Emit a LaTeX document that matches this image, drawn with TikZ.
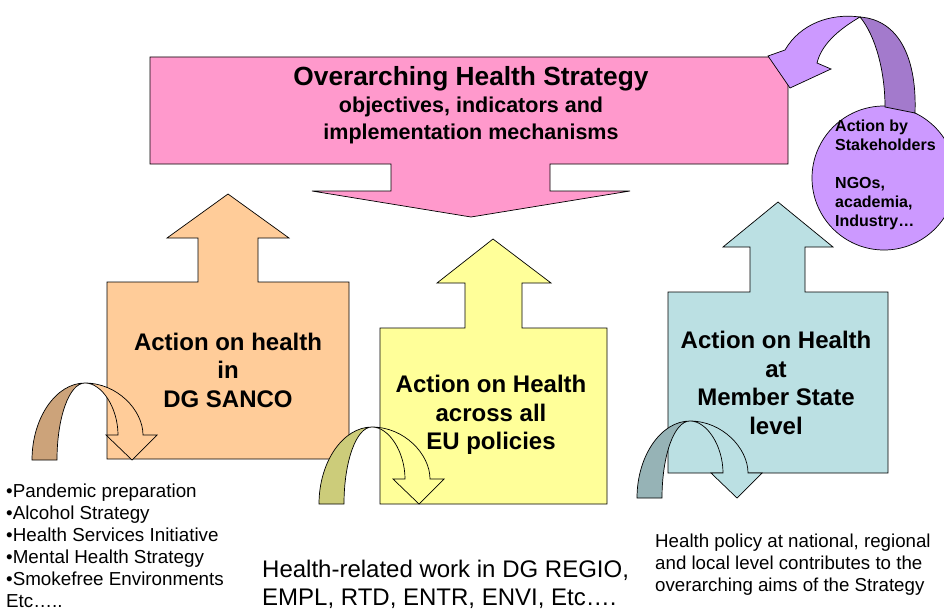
\documentclass[tikz,border=0pt]{standalone}
\usepackage{fontspec}
\setmainfont{Liberation Sans}
\definecolor{pinkc}{HTML}{FF99CC}
\definecolor{orangec}{HTML}{FFCC99}
\definecolor{yellowc}{HTML}{FFFF99}
\definecolor{tealc}{HTML}{BBE0E3}
\definecolor{purplec}{HTML}{CC99FF}
\definecolor{purpled}{HTML}{A37ACC}
\definecolor{orangek}{HTML}{CCA37A}
\definecolor{yellowk}{HTML}{CCCC7A}
\definecolor{tealk}{HTML}{96B3B6}
\tikzset{
  outl/.style={draw=black,line width=0.7pt,line join=miter},
  boxtxt/.style={font=\fontsize{24}{28.5}\selectfont\bfseries,align=center,inner sep=0pt},
  plaintxt/.style={align=left,inner sep=0pt,anchor=west},
  pics/curvarr/.style 2 args={code={
    \draw[outl,fill=#1] (0,0) .. controls (0,-42) and (24,-77) .. (53,-77)
       .. controls (37,-77) and (25,-42) .. (25,0) -- cycle;
    \draw[outl,fill=#2] (53,-77) .. controls (85,-77) and (111,-50) .. (111,-25)
       -- (125,-25) -- (100,0) -- (74,-25) -- (86,-25)
       .. controls (86,-52) and (70,-77) .. (53,-77) -- cycle;
  }}
}
\begin{document}
\begin{tikzpicture}[x=1pt,y=-1pt]
\useasboundingbox[fill=white] (0,0) rectangle (944,610);
% overarching strategy arrow
\draw[outl,fill=pinkc] (150,57) -- (788,57) -- (788,164) -- (550,164) -- (550,191) -- (630,191)
  -- (471,217) -- (312,191) -- (391,191) -- (391,164) -- (150,164) -- cycle;
% DG SANCO
\draw[outl,fill=orangec] (107,459) -- (107,282) -- (198,282) -- (198,238) -- (167,238) -- (228,194)
  -- (289,238) -- (258,238) -- (258,282) -- (349,282) -- (349,459) -- cycle;
% EU policies
\draw[outl,fill=yellowc] (380,504) -- (380,328) -- (465,328) -- (465,283) -- (437,283) -- (493,239)
  -- (551,283) -- (522,283) -- (522,328) -- (607,328) -- (607,504) -- cycle;
% Member state
\draw[outl,fill=tealc] (668,473) -- (668,292) -- (750,292) -- (750,247) -- (723,247) -- (778,202)
  -- (833,247) -- (805,247) -- (805,292) -- (888,292) -- (888,473) -- cycle;
% stakeholders circle
\draw[outl,fill=purplec] (884,178) circle[radius=72];
\draw[outl,fill=purpled] (860,17) .. controls (900,20) and (917,60) .. (915,113)
  -- (885,107) .. controls (885,70) and (875,35) .. (860,17) -- cycle;
\draw[outl,fill=purplec] (785,50) .. controls (800,24) and (830,13) .. (860,17)
  .. controls (843,27) and (822,42) .. (817,63) -- (831,69) -- (790,88) -- (768,56) -- cycle;
% curved arrows
\pic at (32,460) {curvarr={orangek}{orangec}};
\pic at (319,504) {curvarr={yellowk}{yellowc}};
\pic at (637,498) {curvarr={tealk}{tealc}};
% texts
\node[inner sep=0pt,font=\fontsize{26.3}{30}\selectfont\bfseries] (title) at (471,79) {Overarching Health Strategy};
\node[inner sep=0pt,align=center,font=\fontsize{21.5}{27}\selectfont\bfseries] (sub) at (471,120)
  {objectives, indicators and\\implementation mechanisms};
\node[boxtxt] (sanco) at (228,370) {Action on health\\in\\DG SANCO};
\node[boxtxt] (eu) at (491,415) {Action on Health\\across all\\EU policies};
\node[boxtxt] (ms) at (776,383) {Action on Health\\at\\Member State\\level};
\node[plaintxt,font=\fontsize{16}{19}\selectfont\bfseries] (stake) at (835,175)
  {Action by\\Stakeholders\\[19pt]NGOs,\\academia,\\Industry…};
\node[plaintxt,font=\fontsize{18.8}{22}\selectfont] (bullets) at (6,546)
  {•Pandemic preparation\\•Alcohol Strategy\\•Health Services Initiative\\•Mental Health Strategy\\•Smokefree Environments\\Etc…..};
\node[plaintxt,font=\fontsize{24}{28}\selectfont] (dgs) at (262,584)
  {Health-related work in DG REGIO,\\EMPL, RTD, ENTR, ENVI, Etc….};
\node[plaintxt,font=\fontsize{18.7}{22}\selectfont] (msp) at (655,565)
  {Health policy at national, regional\\and local level contributes to the\\overarching aims of the Strategy};
\end{tikzpicture}
\end{document}
